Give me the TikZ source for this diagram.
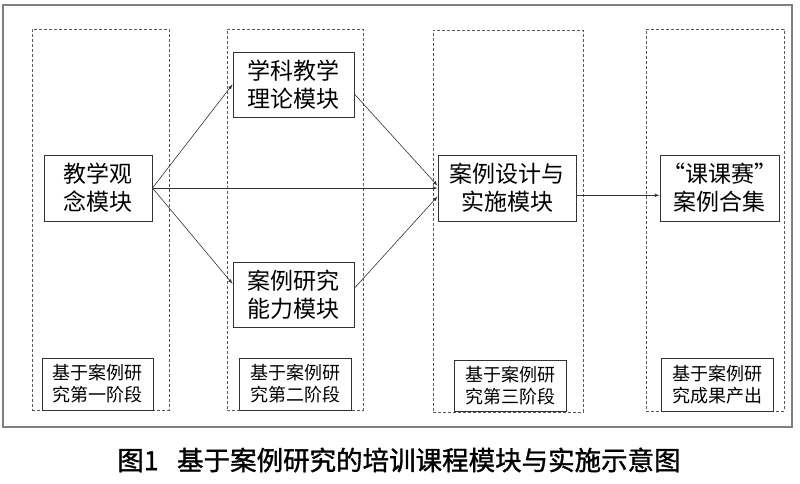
\documentclass[tikz,border=0pt]{standalone}
\usepackage{fontspec}
\newfontfamily\cjk{Noto Sans CJK SC}
\newfontfamily\cjkbold{Noto Sans CJK SC}[FakeBold=1.2]

\begin{document}
\begin{tikzpicture}[x=1pt, y=-1pt, >=latex,
		col/.style={draw=black!65, dash pattern=on 3pt off 2pt, inner sep=0pt},
		mod/.style={draw=black!80, line width=1pt, fill=white, inner sep=0pt, align=center, font=\cjk\fontsize{23}{28}\selectfont},
		stage/.style={draw=black!80, line width=1pt, fill=white, inner sep=0pt, align=center, minimum width=112pt, minimum height=52pt, font=\cjk\fontsize{18}{22}\selectfont},
		arr/.style={->, color=black!80, line width=0.6pt}]
			\useasboundingbox (0, 0) rectangle (800, 483);
			\node[draw=black!50, line width=1.2pt, minimum width=789pt, minimum height=422pt, inner sep=0pt] (frame) at (397.5, 216) {};
			% the four stages
			\node[col, minimum width=137pt, minimum height=381pt] (c1) at (100.5, 219.5) {};
			\node[col, minimum width=136pt, minimum height=381pt] (c2) at (295, 219.5) {};
			\node[col, minimum width=150pt, minimum height=382pt] (c3) at (508, 221) {};
			\node[col, minimum width=138pt, minimum height=382pt] (c4) at (715, 220) {};
			% modules
			\node[mod, minimum width=108pt, minimum height=66pt] (m1) at (98, 188) {教学观\\念模块};
			\node[mod, minimum width=121pt, minimum height=65pt] (m2) at (293.5, 84.5) {学科教学\\理论模块};
			\node[mod, minimum width=121pt, minimum height=65pt] (m3) at (293.5, 294.5) {案例研究\\能力模块};
			\node[mod, minimum width=138pt, minimum height=66pt] (m4) at (507, 188) {案例设计与\\实施模块};
			\node[mod, minimum width=119pt, minimum height=66pt] (m5) at (719.5, 188) {“课课赛”\\案例合集};
			\node[stage, minimum width=111pt] (s1) at (97.5, 384) {基于案例研\\究第一阶段};
			\node[stage] (s2) at (295, 384) {基于案例研\\究第二阶段};
			\node[stage, minimum height=51pt] (s3) at (510, 385.5) {基于案例研\\究第三阶段};
			\node[stage, minimum height=53pt] (s4) at (717, 384.5) {基于案例研\\究成果产出};
			\path[arr] (m1.east) edge (m2.west);
			\path[arr] (m1.east) edge (m3.170);
			\path[arr] (m1.east) edge (m4.west);
			\path[arr] (m2.-9) edge (m4.178);
			\path[arr] (m3.6) edge (m4.187);
			\draw[arr] (m4.-6) -- (m4.-6 -| m5.west);
			\node[font=\cjkbold\fontsize{26.5}{30}\selectfont] (cap) at (399, 460) {图1\hspace{0.7em}基于案例研究的培训课程模块与实施示意图};
		\end{tikzpicture}
\end{document}
